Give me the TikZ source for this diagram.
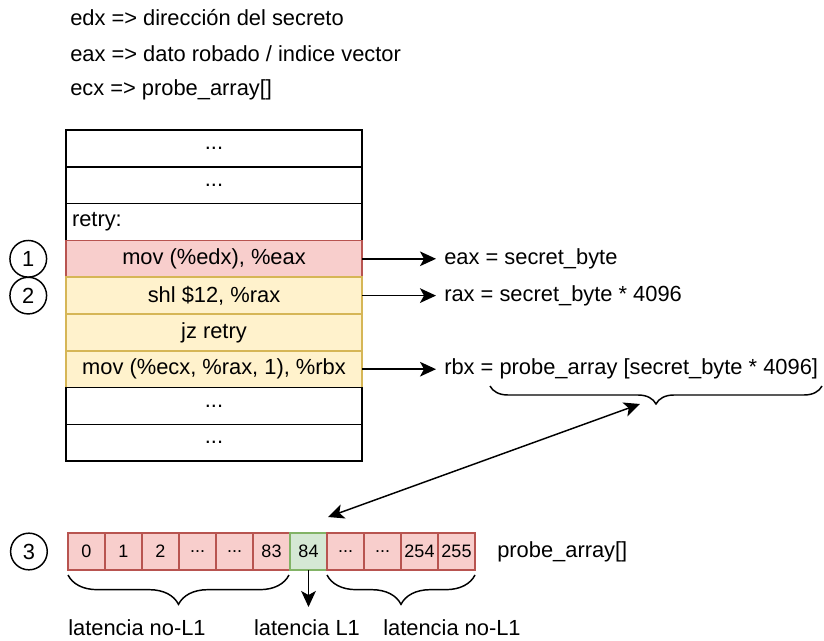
\documentclass[tikz,border=0pt]{standalone}
\usepackage{fontspec}
\setmainfont{Liberation Sans}
\usetikzlibrary{arrows.meta,decorations.pathreplacing,positioning}

\definecolor{redfill}{HTML}{F8CECC}
\definecolor{redline}{HTML}{B85450}
\definecolor{yelfill}{HTML}{FFF2CC}
\definecolor{yelline}{HTML}{D6B656}
\definecolor{greenfill}{HTML}{D5E8D4}
\definecolor{greenline}{HTML}{82B366}

\tikzset{
  txt/.style={font=\fontsize{16.4}{19.7}\selectfont},
  note/.style={txt, anchor=west, inner sep=0pt},
  row/.style={txt, draw=black, fill=white, line width=1.1pt, minimum width=222pt, minimum height=27.6pt, inner sep=0pt, outer sep=0pt},
  loadrow/.style={row, draw=redline, fill=redfill},
  specrow/.style={row, draw=yelline, fill=yelfill},
  num/.style={txt, draw, circle, line width=1.1pt, minimum size=27.5pt, inner sep=0pt},
  reg/.style={txt, anchor=west, inner xsep=6pt, inner ysep=0pt},
  slot/.style={draw=redline, fill=redfill, line width=1.1pt, minimum width=27.75pt, minimum height=27.75pt, inner sep=0pt, outer sep=0pt, font=\fontsize{13.5}{16}\selectfont},
  hitslot/.style={slot, draw=greenline, fill=greenfill},
  arr/.style={line width=1.1pt, -{Stealth[length=12pt,width=11pt,inset=3pt]}},
  dbl/.style={line width=1.1pt, {Stealth[length=12pt,width=11pt,inset=3pt]}-{Stealth[length=12pt,width=11pt,inset=3pt]}},
  curly/.style={line width=1.1pt, decorate, decoration={brace, mirror, amplitude=#1}},
}

\begin{document}
\begin{tikzpicture}[x=0.75pt,y=0.75pt,yscale=-1,xscale=1]
\useasboundingbox (0,0) rectangle (824,641);

% register legend
\node[note] (edx) at (70,18) {edx => dirección del secreto};
\node[note] (eax) at (70,54) {eax => dato robado / indice vector};
\node[note] (ecx) at (70,90) {ecx => probe\_array[]};

% code listing
\node[row, anchor=north west] (r1) at (66,130) {...};
\node[row, below=0pt of r1] (r2) {...};
\node[row, below=0pt of r2, inner xsep=4.5pt, text width=213pt, align=left] (r3) {retry:};
\node[loadrow, below=0pt of r3] (r4) {mov (\%edx), \%eax};
\node[specrow, below=0pt of r4] (r5) {shl \$12, \%rax};
\node[specrow, below=0pt of r5] (r6) {jz retry};
\node[specrow, below=0pt of r6] (r7) {mov (\%ecx, \%rax, 1), \%rbx};
\node[row, below=0pt of r7] (r8) {...};
\node[row, below=0pt of r8] (r9) {...};

% step numbers
\node[num, left=14pt of r4] (s1) {1};
\node[num, left=14pt of r5] (s2) {2};

% register results
\node[reg, right=55.5pt of r4] (v1) {eax = secret\_byte};
\node[reg, right=55.5pt of r5] (v2) {rax = secret\_byte * 4096};
\node[reg, right=55.5pt of r7] (v3) {rbx = probe\_array [secret\_byte * 4096]};

\draw[arr] (r4.east) -- (v1.west);
\draw[arr] (r5.east) -- (v2.west);
\draw[arr] (r7.east) -- (v3.west);

\draw[curly=13.5pt] (490,386) -- (822,386);

% probe array
\node[slot, anchor=north west] (a0) at (68,533) {0};
\node[slot, right=0pt of a0] (a1) {1};
\node[slot, right=0pt of a1] (a2) {2};
\node[slot, right=0pt of a2] (a3) {...};
\node[slot, right=0pt of a3] (a4) {...};
\node[slot, right=0pt of a4] (a5) {83};
\node[hitslot, right=0pt of a5] (a6) {84};
\node[slot, right=0pt of a6] (a7) {...};
\node[slot, right=0pt of a7] (a8) {...};
\node[slot, right=0pt of a8] (a9) {254};
\node[slot, right=0pt of a9] (a10) {255};

\node[num, left=15pt of a0] (s3) {3};
\node[note, right=16.5pt of a10] (pa) {probe\_array[]};

\coordinate (top) at (640,404);
\coordinate (hit) at (328,517);
\draw[dbl] (top) -- (hit);

\draw[curly=22pt] (68,575) -- (289,575);
\draw[curly=22pt] (327,575) -- (475,575);

\node[txt, inner sep=0pt] (l1) at (137,628) {latencia no-L1};
\node[txt, inner sep=0pt] (l2) at (307,628) {latencia L1};
\node[txt, inner sep=0pt] (l3) at (452,628) {latencia no-L1};

\coordinate (down) at (a6.south |- 0,607);
\draw[arr] (a6.south) -- (down);

\end{tikzpicture}
\end{document}
